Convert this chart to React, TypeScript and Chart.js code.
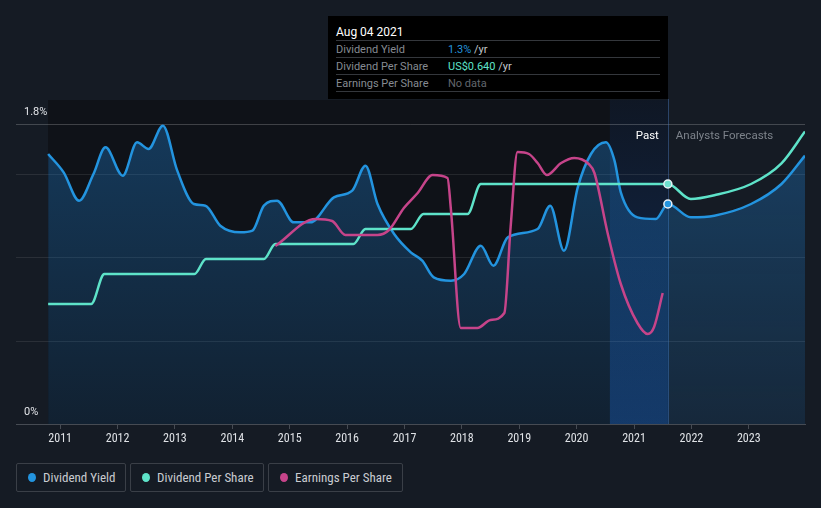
import React, { useEffect, useRef } from "react";
import { Chart, registerables } from "chart.js";

Chart.register(...registerables);

// ---- data ----
const yearTicks = [2011, 2012, 2013, 2014, 2015, 2016, 2017, 2018, 2019, 2020, 2021, 2022, 2023];

const NOW = 2021.59; // Aug 04 2021
const PAST_START = 2020.58;
const DATA_START = 2010.79;
const X_MIN = 2010.23;
const X_MAX = 2023.98;

const yieldYears = [
  2010.79, 2011.06, 2011.33, 2011.58, 2011.79, 2012.09, 2012.34, 2012.54, 2012.79, 2013.04,
  2013.33, 2013.53, 2013.79, 2014.14, 2014.35, 2014.55, 2014.78, 2015.07, 2015.36, 2015.77,
  2016.09, 2016.32, 2016.53, 2016.82, 2017.11, 2017.31, 2017.51, 2017.81, 2018.04, 2018.33,
  2018.55, 2018.8, 2019.32, 2019.54, 2019.78, 2020.02, 2020.25, 2020.51, 2020.66, 2020.77,
  2021.06, 2021.38, 2021.59, 2021.99, 2022.4, 2023.04, 2023.57, 2023.98,
];
const yieldValues = [
  1.62, 1.51, 1.34, 1.5, 1.66, 1.49, 1.69, 1.65, 1.79, 1.52,
  1.32, 1.31, 1.19, 1.15, 1.16, 1.31, 1.34, 1.21, 1.21, 1.36,
  1.4, 1.55, 1.32, 1.14, 1.03, 0.98, 0.88, 0.86, 0.9, 1.07,
  0.95, 1.12, 1.17, 1.31, 1.04, 1.42, 1.62, 1.69, 1.58, 1.39,
  1.24, 1.23, 1.32, 1.24, 1.25, 1.32, 1.44, 1.61,
];

const dpsYears = [
  2010.79, 2011.54, 2011.77, 2013.34, 2013.54, 2014.55, 2014.75, 2016.11, 2016.32, 2017.11,
  2017.33, 2018.1, 2018.33, 2021.59, 2021.99, 2022.4, 2023.04, 2023.57, 2023.98,
];
const dpsValues = [
  0.32, 0.32, 0.4, 0.4, 0.44, 0.44, 0.48, 0.48, 0.52, 0.52,
  0.56, 0.56, 0.64, 0.64, 0.6, 0.61, 0.64, 0.695, 0.78,
];

const epsYears = [
  2014.75, 2015.45, 2015.74, 2015.97, 2016.53, 2016.73, 2016.99, 2017.23, 2017.49, 2017.75,
  2017.81, 2017.98, 2018.27, 2018.5, 2018.74, 2018.85, 2018.97, 2019.17, 2019.32, 2019.48,
  2019.73, 2019.96, 2020.21, 2020.31, 2020.54, 2020.77, 2021.06, 2021.24, 2021.35, 2021.5,
];
const epsValues = [
  1.78, 2.05, 2.03, 1.89, 1.89, 1.94, 2.16, 2.31, 2.49, 2.46,
  2.14, 0.96, 0.96, 1.04, 1.11, 1.97, 2.72, 2.7, 2.61, 2.49,
  2.61, 2.66, 2.6, 2.51, 1.91, 1.4, 1.01, 0.9, 0.97, 1.31,
];

const yGridValues = [0.5, 1.0, 1.5, 1.8];

const BLUE = "#2394df";
const TEAL = "#5ee3c9";
const MAGENTA = "#c6448a";
const PAGE_BG = "#151b24";
const PAST_BG = "#0f1218";
const CONDENSED = "'Roboto Condensed', 'Liberation Sans Narrow', 'DejaVu Sans Condensed', Roboto, sans-serif";
const SANS = "Roboto, 'Noto Sans', sans-serif";

const zip = (xs: number[], ys: number[]) => xs.map((x, i) => ({ x, y: ys[i] }));

const decorPlugin = {
  id: "decor",
  beforeDraw(chart: any) {
    const { ctx, chartArea: ca, scales } = chart;
    const x = scales.x;
    const xs = x.getPixelForValue(DATA_START);
    const xn = x.getPixelForValue(NOW);
    const xb = x.getPixelForValue(PAST_START);
    const top = 100;
    ctx.save();
    ctx.fillStyle = PAST_BG;
    ctx.fillRect(xs, top, xn - xs, ca.bottom - top);
    const g = ctx.createLinearGradient(0, top, 0, ca.bottom);
    g.addColorStop(0, "rgba(20,90,200,0.07)");
    g.addColorStop(1, "rgba(25,100,210,0.34)");
    ctx.fillStyle = g;
    ctx.fillRect(xb, top, xn - xb, ca.bottom - top);
    ctx.restore();
  },
  beforeDatasetsDraw(chart: any) {
    const { ctx, chartArea: ca, scales } = chart;
    const y = scales.y;
    ctx.save();
    yGridValues.forEach((v) => {
      const py = Math.round(y.getPixelForValue(v)) + 0.5;
      ctx.strokeStyle = v === 1.8 ? "rgba(255,255,255,0.2)" : "rgba(255,255,255,0.09)";
      ctx.lineWidth = 1;
      ctx.beginPath();
      ctx.moveTo(ca.left, py);
      ctx.lineTo(ca.right, py);
      ctx.stroke();
    });
    const xn = Math.round(scales.x.getPixelForValue(NOW)) + 0.5;
    ctx.strokeStyle = "rgba(70,120,190,0.45)";
    ctx.beginPath();
    ctx.moveTo(xn, 99);
    ctx.lineTo(xn, ca.bottom);
    ctx.stroke();
    ctx.restore();
  },
  afterDraw(chart: any) {
    const { ctx, chartArea: ca, scales } = chart;
    const y = scales.y;
    const xn = scales.x.getPixelForValue(NOW);
    ctx.save();
    ctx.font = `11px ${SANS}`;
    ctx.textBaseline = "middle";
    ctx.textAlign = "left";
    ctx.fillStyle = "#e2e4e8";
    ctx.fillText("1.8%", 24, y.getPixelForValue(1.8) - 11.5);
    ctx.fillText("0%", 24, y.getPixelForValue(0) - 11.5);
    ctx.font = `11.5px ${SANS}`;
    ctx.textAlign = "right";
    ctx.fillStyle = "#ffffff";
    ctx.fillText("Past", xn - 9, ca.top + 12);
    ctx.textAlign = "left";
    ctx.fillStyle = "#7d838b";
    ctx.fillText("Analysts Forecasts", xn + 8, ca.top + 12);
    ctx.restore();
  },
};

const pointRadius = (c: any) => (c.raw && c.raw.x === NOW ? 4 : 0);

export default function App() {
  const canvasRef = useRef<HTMLCanvasElement | null>(null);

  useEffect(() => {
    document.body.style.margin = "0";
    document.body.style.background = PAGE_BG;
    const canvas = canvasRef.current;
    if (!canvas) return;
    const chart = new Chart(canvas, {
      type: "line",
      data: {
        datasets: [
          {
            label: "Earnings Per Share",
            data: zip(epsYears, epsValues),
            yAxisID: "yEps",
            borderColor: MAGENTA,
            borderWidth: 2.5,
            pointRadius: 0,
            cubicInterpolationMode: "monotone",
            fill: false,
            order: 0,
          },
          {
            label: "Dividend Per Share",
            data: zip(dpsYears, dpsValues),
            yAxisID: "yDps",
            borderColor: TEAL,
            borderWidth: 2.5,
            pointRadius,
            pointBackgroundColor: "#6fe0cf",
            pointBorderColor: "#e8f3f5",
            pointBorderWidth: 1.5,
            cubicInterpolationMode: "monotone",
            fill: false,
            order: 1,
          },
          {
            label: "Dividend Yield",
            data: zip(yieldYears, yieldValues),
            yAxisID: "y",
            borderColor: BLUE,
            borderWidth: 2.5,
            pointRadius,
            pointBackgroundColor: BLUE,
            pointBorderColor: "#e8f0f8",
            pointBorderWidth: 1.5,
            cubicInterpolationMode: "monotone",
            fill: "origin",
            backgroundColor: (c: any) => {
              const ca = c.chart.chartArea;
              if (!ca) return "rgba(33,150,243,0.2)";
              const g = c.chart.ctx.createLinearGradient(0, ca.top, 0, ca.bottom);
              g.addColorStop(0, "rgba(33,140,230,0.32)");
              g.addColorStop(1, "rgba(33,140,230,0.12)");
              return g;
            },
            order: 2,
          },
        ],
      },
      options: {
        animation: false,
        responsive: true,
        maintainAspectRatio: false,
        events: [],
        layout: { padding: { left: 16, right: 16, top: 124, bottom: 0 } },
        plugins: { legend: { display: false }, tooltip: { enabled: false } },
        scales: {
          x: {
            type: "linear",
            min: X_MIN,
            max: X_MAX,
            afterBuildTicks: (s: any) => {
              s.ticks = yearTicks.map((v) => ({ value: v }));
            },
            afterFit: (s: any) => {
              s.height = 36;
            },
            ticks: {
              autoSkip: false,
              maxRotation: 0,
              padding: 3,
              color: "#dfe2e6",
              font: { family: CONDENSED, size: 12 },
              callback: (v: any) => String(v),
            },
            grid: {
              display: true,
              drawOnChartArea: false,
              drawTicks: true,
              tickLength: 5,
              tickColor: "#464b53",
            },
            border: { display: true, color: "#464b53" },
          },
          y: { display: false, min: 0, max: 1.8 },
          yDps: { display: false, min: 0, max: 0.8 },
          yEps: { display: false, min: 0, max: 3 },
        },
      } as any,
      plugins: [decorPlugin],
    });
    return () => chart.destroy();
  }, []);

  const legendItems = [
    { label: "Dividend Yield", color: BLUE, left: 16, width: 110 },
    { label: "Dividend Per Share", color: TEAL, left: 130, width: 134 },
    { label: "Earnings Per Share", color: MAGENTA, left: 268, width: 135 },
  ];

  const rowStyle: React.CSSProperties = {
    position: "absolute",
    left: 8,
    height: 17,
    lineHeight: "17px",
    fontSize: 11,
    color: "#868b92",
    whiteSpace: "nowrap",
  };
  const sep = (top: number) => (
    <div style={{ position: "absolute", left: 8, top, width: 324, height: 1, background: "#34373c" }} />
  );

  return (
    <div style={{ position: "relative", width: 821, height: 508, background: PAGE_BG, overflow: "hidden", fontFamily: SANS }}>
      <div style={{ position: "absolute", left: 0, top: 0, width: 821, height: 460 }}>
        <canvas ref={canvasRef} />
      </div>
      {/* tooltip */}
      <div style={{ position: "absolute", left: 328, top: 16, width: 340, height: 83, background: "#000" }}>
        <div style={{ position: "absolute", left: 8, top: 8, fontSize: 12, lineHeight: "16px", color: "#fff", fontWeight: 400 }}>Aug 04 2021</div>
        {sep(24)}
        <div style={{ ...rowStyle, top: 25 }}>Dividend Yield</div>
        <div style={{ ...rowStyle, top: 25, left: 120 }}>
          <span style={{ color: BLUE }}>1.3%</span>
          <span style={{ color: "#c4c8cc" }}> /yr</span>
        </div>
        {sep(41)}
        <div style={{ ...rowStyle, top: 42 }}>Dividend Per Share</div>
        <div style={{ ...rowStyle, top: 42, left: 120 }}>
          <span style={{ color: TEAL }}>US$0.640</span>
          <span style={{ color: "#c4c8cc" }}> /yr</span>
        </div>
        {sep(58)}
        <div style={{ ...rowStyle, top: 59 }}>Earnings Per Share</div>
        <div style={{ ...rowStyle, top: 59, left: 120, color: "#62676e" }}>No data</div>
        {sep(75)}
      </div>
      {/* legend */}
      {legendItems.map((it) => (
        <div
          key={it.label}
          style={{
            position: "absolute",
            left: it.left,
            top: 463,
            width: it.width,
            height: 29,
            boxSizing: "border-box",
            border: "1px solid #3a3f47",
            borderRadius: 2,
            display: "flex",
            alignItems: "center",
            paddingLeft: 11,
            fontFamily: CONDENSED,
            fontSize: 13,
            color: "#c9ccd1",
          }}
        >
          <span style={{ width: 8, height: 9, borderRadius: "50%", background: it.color, display: "inline-block", marginRight: 7 }} />
          {it.label}
        </div>
      ))}
    </div>
  );
}
